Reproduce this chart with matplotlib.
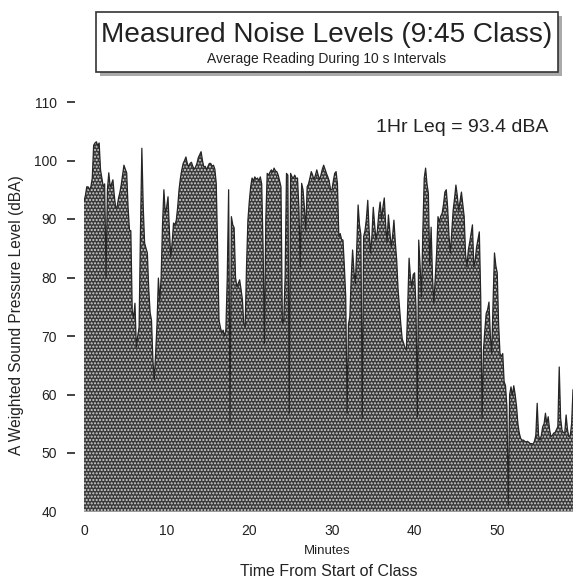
import matplotlib
matplotlib.use('Agg')
import matplotlib.pyplot as plt
from matplotlib.patches import Rectangle
import numpy as np

plt.rcParams['font.family'] = ['Liberation Sans', 'DejaVu Sans']
plt.rcParams['hatch.linewidth'] = 1.0

# Average reading (dBA) during each 10 s interval
levels = [
    93, 94, 95.5, 95.5, 95, 95.5, 97, 102.6, 103, 103.2, 102.5, 103,
    98.4, 97, 95.5, 96, 80, 95, 97.9, 95.5, 96, 96.7, 94, 92,
    92, 93.5, 94.5, 95.8, 97.5, 99.2, 98.5, 97.9, 92, 88.1, 88, 74.4,
    73, 75.6, 68.1, 70, 71.5, 88, 102.1, 92, 85.9, 85, 84.2, 78,
    74, 72.7, 66, 62.5, 67, 72, 79.9, 76, 80, 89, 95, 91,
    92, 93.8, 88, 83.5, 86, 89.3, 89, 89.8, 92, 95, 97, 98.4,
    99.5, 100, 100.6, 99.5, 98.9, 99.5, 99.7, 99, 98.5, 98.9, 99.5, 100.5,
    101, 101.5, 100, 98.9, 99, 98.4, 99, 99.5, 99.5, 99, 99.2, 98.5,
    96.1, 85, 72.7, 71.5, 70.5, 71, 70, 71, 80, 95, 55, 90.4,
    89, 88.5, 80, 78.4, 79, 79.6, 78, 76.2, 72, 71.5, 82, 89.8,
    93, 95.5, 97, 96.5, 97.2, 96.8, 97, 96.5, 97.2, 96, 85.2, 68.8,
    90, 97.8, 97.5, 98, 98.4, 98, 98.7, 98.2, 98.1, 97.5, 96.5, 95.5,
    72.2, 72.7, 80, 97.8, 97.5, 56.8, 97.8, 97.2, 97, 97.5, 96.9, 97,
    92, 81.8, 96.1, 95, 92, 88.1, 95.5, 96, 97, 98.1, 97.5, 96.7,
    97.5, 98.4, 97.5, 96.7, 97.5, 98.5, 99.2, 98.5, 97.8, 97.2, 96.5, 95,
    95, 96.5, 97.8, 98.1, 96, 87, 87.5, 86.5, 86.4, 82, 76.7, 56.8,
    72, 73.3, 80, 84.7, 81, 79, 85, 92.4, 89, 87.3, 56, 87,
    88, 90, 93.2, 88, 84.2, 87, 92, 89, 86.4, 88, 91, 92.9,
    90, 92, 93.6, 89, 86, 90.7, 88, 85.2, 87, 89.8, 86, 83,
    78, 75, 72, 69.5, 68.8, 68, 67.6, 75, 83.3, 80, 78.4, 80.5,
    80.8, 75, 56.2, 86.4, 82, 76.7, 88, 97, 98.7, 96, 94.4, 82,
    88.6, 80, 75.6, 80, 84.2, 90.4, 89.5, 90.5, 91, 92.5, 94.6, 95,
    92, 87, 84.2, 88, 91.5, 93.5, 95.8, 94, 91.5, 93, 94.6, 92.5,
    90.4, 84, 81.8, 84.7, 86, 87.5, 89, 81.8, 83, 85.2, 86.5, 87.8,
    76.7, 56, 67.6, 71, 73.9, 74.5, 75.8, 70, 67, 76, 84.2, 82,
    80.8, 72, 67, 66.5, 67, 62.2, 61.5, 58, 41, 60, 61.3, 59.8,
    61.5, 60, 58, 55, 53.4, 52.5, 52.2, 52.2, 52, 51.9, 52, 51.8,
    51.6, 51.6, 51.5, 52, 53, 58.5, 53, 52.2, 53, 54.5, 55, 56.8,
    55, 56.2, 54, 52.8, 53, 53.4, 53.5, 54, 54.5, 64.7, 56, 53.9,
    53.5, 53.4, 56.5, 54, 52.8, 53, 55, 60.8,
]
minutes = np.arange(len(levels)) / 6.0

x_ticks = [0, 10, 20, 30, 40, 50]
y_ticks = [40, 50, 60, 70, 80, 90, 100, 110]

title = "Measured Noise Levels (9:45 Class)"
subtitle = "Average Reading During 10 s Intervals"
leq_text = "1Hr Leq = 93.4 dBA"
xlabel1 = "Minutes"
xlabel2 = "Time From Start of Class"
ylabel = "A Weighted Sound Pressure Level (dBA)"

W, H = 573, 581
fig = plt.figure(figsize=(W / 100, H / 100), dpi=100)
ax = fig.add_axes([84 / W, 1 - 511.5 / H, (573 - 84) / W, (511.5 - 102) / H])

ax.fill_between(minutes, levels, 40, facecolor='#3a3a3a', edgecolor='#d4d4d4',
                hatch='.....', linewidth=0)
ax.plot(minutes, levels, color='#262626', lw=0.9)
ax.set_xlim(0, minutes[-1])
ax.set_ylim(40, 110)
ax.set_xticks(x_ticks)
ax.set_yticks(y_ticks)
for s in ax.spines.values():
    s.set_visible(False)
ax.spines['left'].set_position(('outward', 6.5))
ax.tick_params(axis='y', length=6, width=1.2, pad=7, labelsize=10,
               direction='out', color='#222222', labelcolor='#222222')
ax.tick_params(axis='x', length=0, pad=9, labelsize=10, labelcolor='#222222')
ax.yaxis.get_major_ticks()[0].tick1line.set_visible(False)

ax.text((548 - 84) / 489, (511.5 - 127) / 409.5, leq_text, transform=ax.transAxes,
        ha='right', va='center', fontsize=14, color='#222222')

fig.text(327 / W, 1 - 551 / H, xlabel1, ha='center', va='center', fontsize=9.5, color='#222222')
fig.text(329 / W, 1 - 572 / H, xlabel2, ha='center', va='center', fontsize=11.5, color='#222222')
fig.text(17 / W, 1 - 315 / H, ylabel, ha='center', va='center', rotation=90,
         fontsize=11.2, color='#222222')

# title box with shadow
bx0, bx1, by0, by1 = 96, 558, 12, 72
fig.patches.append(Rectangle(((bx0 + 4) / W, 1 - (by1 + 4) / H), (bx1 - bx0) / W, (by1 - by0) / H,
                             transform=fig.transFigure, facecolor='#aaaaaa', edgecolor='none'))
fig.patches.append(Rectangle((bx0 / W, 1 - by1 / H), (bx1 - bx0) / W, (by1 - by0) / H,
                             transform=fig.transFigure, facecolor='white', edgecolor='#333333', lw=1.2))
fig.text((bx0 + bx1) / 2 / W, 1 - 35 / H, title, ha='center', va='center', fontsize=20.2, color='#222222')
fig.text((bx0 + bx1) / 2 / W, 1 - 59 / H, subtitle, ha='center', va='center', fontsize=10, color='#222222')

fig.savefig('out.png', dpi=100)
